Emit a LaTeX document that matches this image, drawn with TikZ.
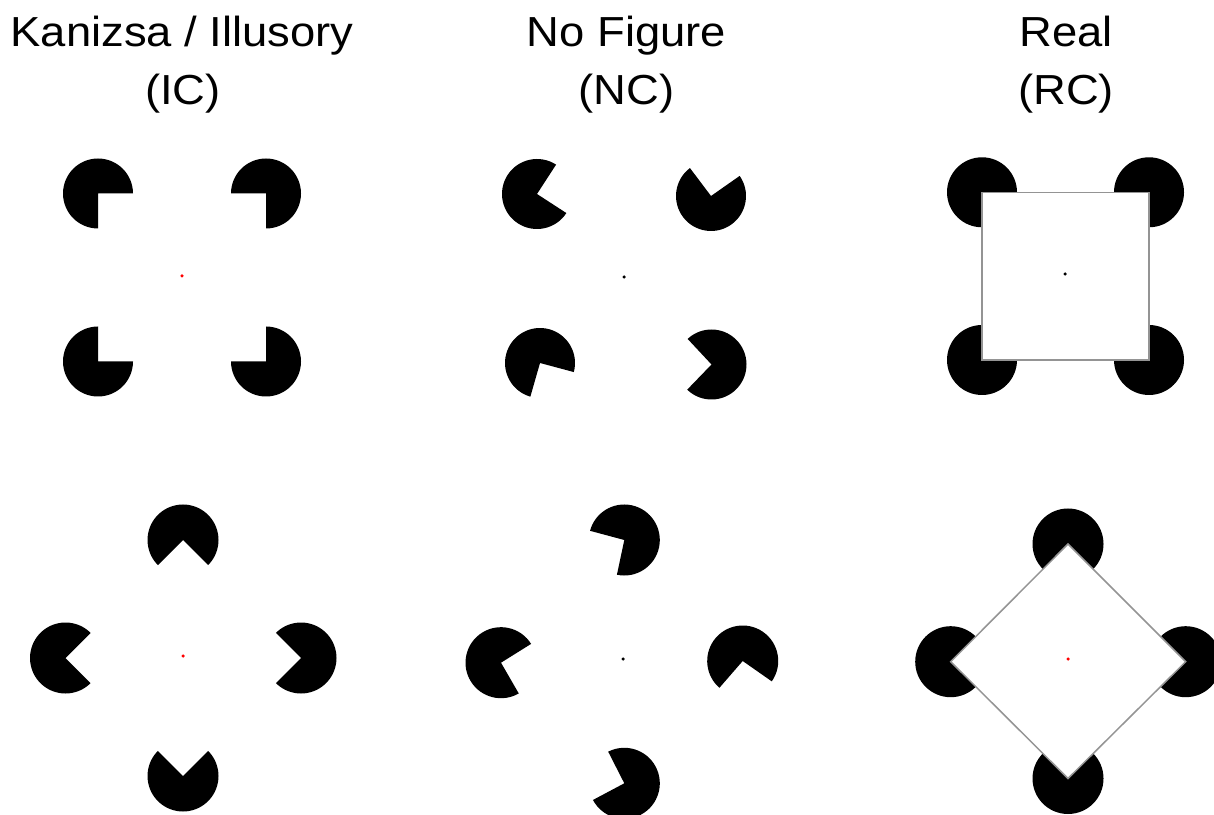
\documentclass[tikz,border=0pt]{standalone}
\usepackage{fontspec}
\setmainfont{Liberation Sans}
\begin{document}
\begin{tikzpicture}[x=1pt,y=1pt,
  title/.style={anchor=base,inner sep=0pt,font=\fontsize{42}{42}\selectfont},
  realsq/.style={fill=white,draw=black!42,line width=1.5pt},
  fixdot/.style={inner sep=0pt,minimum size=3.5pt,circle,fill=#1}]
\useasboundingbox (0,0) rectangle (1214,814);
\clip (0,0) rectangle (1214,814);
\newcommand\pacman[5]{\fill (#1,#2) -- ++(#4:#5) arc[start angle=#4, end angle={#3+360}, radius=#5] -- cycle;}
% titles
\node[title] (t1a) at (182,767.3) {\scalebox{1.08}[1]{Kanizsa / Illusory}};
\node[title] (t1b) at (183,709.7) {\scalebox{1.08}[1]{(IC)}};
\node[title] (t2a) at (626.5,767.3) {\scalebox{1.08}[1]{No Figure}};
\node[title] (t2b) at (626.5,709.7) {\scalebox{1.08}[1]{(NC)}};
\node[title] (t3a) at (1066,767.3) {\scalebox{1.08}[1]{Real}};
\node[title] (t3b) at (1066,709.7) {\scalebox{1.08}[1]{(RC)}};
% IC top
\pacman{98}{620.5}{-90}{0}{35}
\pacman{266}{620.5}{180}{270}{35}
\pacman{98}{452.5}{0}{90}{35}
\pacman{266}{452.5}{90}{180}{35}
\node[fixdot=red] (f1) at (182,538) {};
% NC top
\pacman{537}{620}{-33}{57}{35}
\pacman{711}{618}{35}{127}{35}
\pacman{540}{451}{-106}{-15}{35}
\pacman{711.5}{449.5}{133}{226}{35}
\node[fixdot=black] (f2) at (624,537) {};
% RC top
\fill (982,621.7) circle[radius=35];
\fill (1149,621.7) circle[radius=35];
\fill (982,454) circle[radius=35];
\fill (1149,454) circle[radius=35];
\draw[realsq] (982,621.7) rectangle (1149,454);
\node[fixdot=black] (f3) at (1065,540) {};
% IC bottom
\pacman{183}{274}{-135}{-45}{35.5}
\pacman{65.5}{156}{-45}{45}{35.5}
\pacman{301}{156}{135}{225}{35.5}
\pacman{183}{38}{45}{135}{35.5}
\node[fixdot=red] (f4) at (183,158) {};
% NC bottom
\pacman{624.3}{274}{165}{258}{35.5}
\pacman{501}{151.3}{-60}{32}{35.5}
\pacman{742.7}{153}{-131}{-35}{35.5}
\pacman{624.3}{30.7}{117}{208}{35.5}
\node[fixdot=black] (f5) at (623,155) {};
% RC bottom
\fill (1068,270) circle[radius=35.5];
\fill (950.7,152.3) circle[radius=35.5];
\fill (1185.7,152.3) circle[radius=35.5];
\fill (1068,35.5) circle[radius=35.5];
\draw[realsq] (1068,270) -- (1185.7,152.3) -- (1068,35.5) -- (950.7,152.3) -- cycle;
\node[fixdot=red] (f6) at (1068,155) {};
\end{tikzpicture}
\end{document}
